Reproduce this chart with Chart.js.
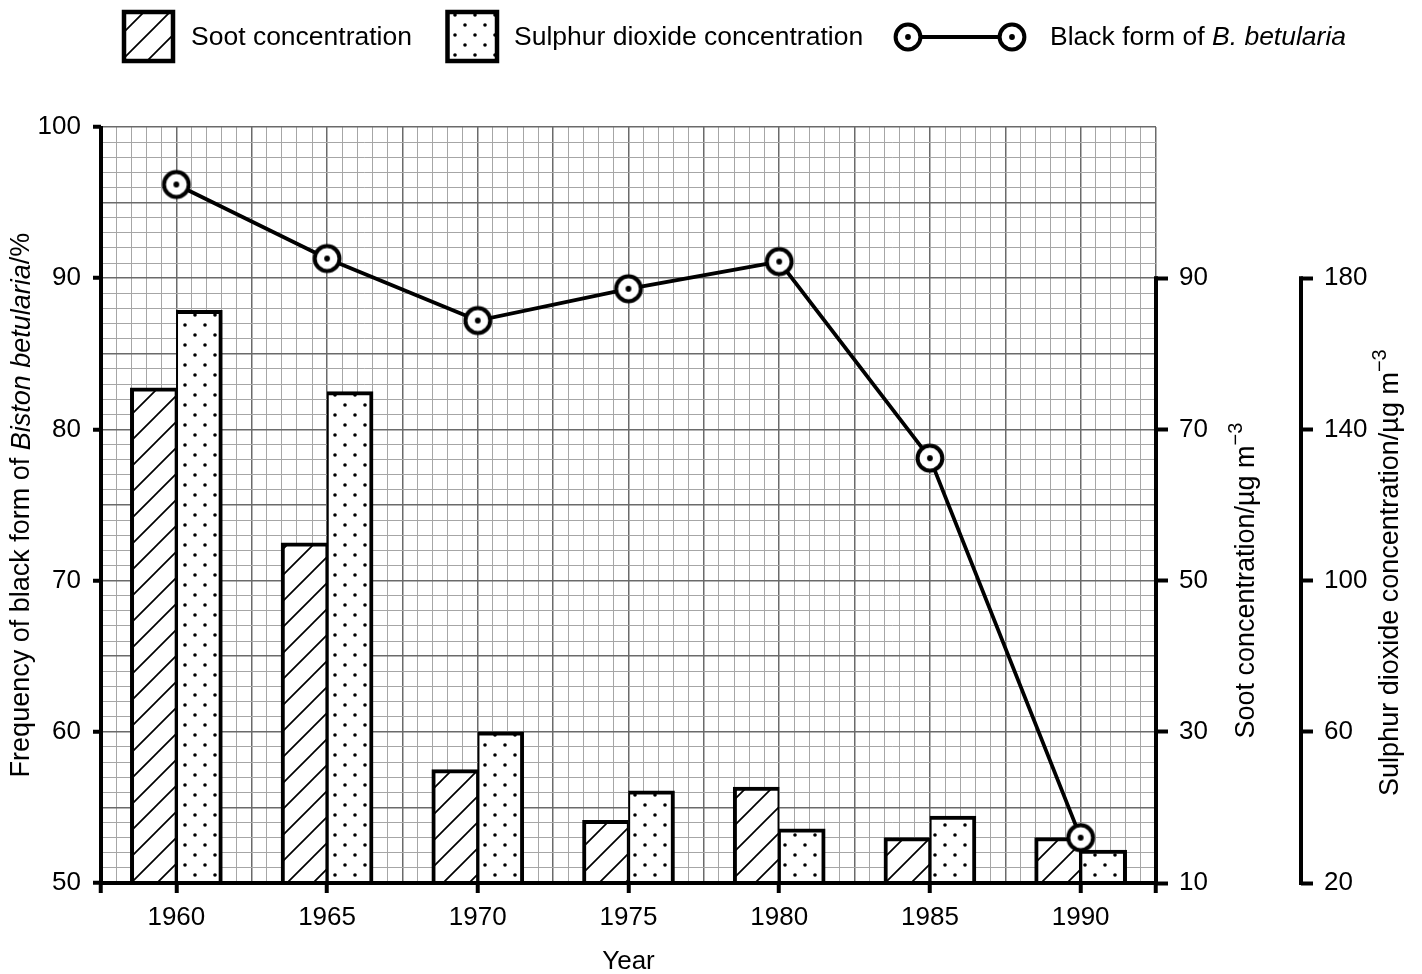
<!DOCTYPE html>
<html>
<head>
<meta charset="utf-8">
<script src="https://cdn.jsdelivr.net/npm/chart.js@4.4.1/dist/chart.umd.min.js"></script>
<style>
  html, body { margin: 0; padding: 0; background: #fff; }
  #wrap { width: 1422px; height: 974px; }
</style>
</head>
<body>
<div id="wrap"><canvas id="chart" width="1422" height="974"></canvas></div>
<script>
// values
const years = [1960, 1965, 1970, 1975, 1980, 1985, 1990];
const sootValues = [75.5, 55, 25, 18.3, 22.7, 16, 16];
const so2Values = [171.5, 150, 60, 44.4, 34.3, 37.7, 28.7];
const blackFormValues = [96.2, 91.3, 87.2, 89.3, 91.1, 78.1, 53.0];

const freqTicks = [50, 60, 70, 80, 90, 100];
const sootTicks = [10, 30, 50, 70, 90];
const so2Ticks = [20, 60, 100, 140, 180];

const FONT = '"Liberation Sans", Arial, sans-serif';
const MINOR = '#a6a6a6';
const MAJOR = '#6a6a6a';
const CLEAR = 'rgba(0,0,0,0)';

// fine graph-paper grid: half a year across, one percent up
const xGrid = [];
for (let v = 1957.5; v <= 1992.5; v += 0.5) xGrid.push(v);
const yGrid = [];
for (let v = 50; v <= 100; v += 1) yGrid.push(v);

function makeHatch() {
    const s = 26;
    const c = document.createElement('canvas');
    c.width = s; c.height = s;
    const g = c.getContext('2d');
    g.fillStyle = '#fff';
    g.fillRect(0, 0, s, s);
    g.strokeStyle = '#000';
    g.lineWidth = 1.7;
    g.beginPath();
    for (const k of [-s, 0, s]) {
        g.moveTo(k - 2, s + 2);
        g.lineTo(k + s + 2, -2);
    }
    g.stroke();
    return g.createPattern(c, 'repeat');
}

function makeDots() {
    const s = 20;
    const c = document.createElement('canvas');
    c.width = s; c.height = s;
    const g = c.getContext('2d');
    g.fillStyle = '#fff';
    g.fillRect(0, 0, s, s);
    g.fillStyle = '#000';
    for (const [px, py] of [[5, 5], [15, 15]]) {
        g.beginPath();
        g.arc(px, py, 1.8, 0, Math.PI * 2);
        g.fill();
    }
    return g.createPattern(c, 'repeat');
}

function makeMarker() {
    const s = 34;
    const c = document.createElement('canvas');
    c.width = s; c.height = s;
    const g = c.getContext('2d');
    g.fillStyle = '#fff';
    g.strokeStyle = '#000';
    g.lineWidth = 4;
    g.beginPath();
    g.arc(s / 2, s / 2, 12.4, 0, Math.PI * 2);
    g.fill();
    g.stroke();
    g.fillStyle = '#000';
    g.beginPath();
    g.arc(s / 2, s / 2, 2.9, 0, Math.PI * 2);
    g.fill();
    return c;
}

const hatch = makeHatch();
const dots = makeDots();
const marker = makeMarker();

function drawRich(ctx, parts, cx, cy, rotate) {
    ctx.save();
    ctx.translate(cx, cy);
    if (rotate) ctx.rotate(-Math.PI / 2);
    let total = 0;
    parts.forEach(p => { ctx.font = p.font; p.w = ctx.measureText(p.text).width; total += p.w; });
    let x = -total / 2;
    ctx.fillStyle = '#000';
    ctx.textAlign = 'left';
    ctx.textBaseline = 'middle';
    parts.forEach(p => { ctx.font = p.font; ctx.fillText(p.text, x, p.dy || 0); x += p.w; });
    ctx.restore();
}

const axisLines = {
    id: 'axisLines',
    afterDatasetsDraw(chart) {
        const ctx = chart.ctx;
        const ca = chart.chartArea;
        const soot = chart.scales.ySoot;
        const so2 = chart.scales.ySO2;
        ctx.save();
        ctx.strokeStyle = '#000';
        ctx.lineWidth = 4;
        ctx.beginPath();
        ctx.moveTo(ca.left, ca.top - 1);
        ctx.lineTo(ca.left, ca.bottom + 2);
        ctx.moveTo(ca.left - 2, ca.bottom);
        ctx.lineTo(ca.right + 2, ca.bottom);
        ctx.moveTo(ca.right, soot.getPixelForValue(sootTicks[sootTicks.length - 1]) - 2);
        ctx.lineTo(ca.right, ca.bottom + 2);
        ctx.moveTo(so2.left, so2.getPixelForValue(so2Ticks[so2Ticks.length - 1]) - 2);
        ctx.lineTo(so2.left, so2.getPixelForValue(so2Ticks[0]) + 2);
        ctx.stroke();
        ctx.restore();
    }
};

const labels = {
    id: 'labels',
    afterDraw(chart) {
        const ctx = chart.ctx;
        const ca = chart.chartArea;
        const f = (size, italic) => (italic ? 'italic ' : '') + size + 'px ' + FONT;
        ctx.save();

        // legend
        ctx.lineWidth = 4.5;
        ctx.strokeStyle = '#000';
        ctx.fillStyle = hatch;
        ctx.fillRect(124, 12, 49, 49);
        ctx.strokeRect(124, 12, 49, 49);
        ctx.fillStyle = dots;
        ctx.fillRect(447.5, 12, 49.5, 49);
        ctx.strokeRect(447.5, 12, 49.5, 49);

        ctx.lineWidth = 3.8;
        ctx.beginPath();
        ctx.moveTo(908, 37);
        ctx.lineTo(1012, 37);
        ctx.stroke();
        ctx.drawImage(marker, 908 - 17, 37 - 17);
        ctx.drawImage(marker, 1012 - 17, 37 - 17);

        ctx.fillStyle = '#000';
        ctx.textBaseline = 'alphabetic';
        ctx.textAlign = 'left';
        ctx.font = f(26.5);
        ctx.fillText('Soot concentration', 191, 45);
        ctx.fillText('Sulphur dioxide concentration', 514, 45);
        const lead = 'Black form of ';
        ctx.fillText(lead, 1050, 45);
        const w = ctx.measureText(lead).width;
        ctx.font = f(26.5, true);
        ctx.fillText('B. betularia', 1050 + w, 45);

        // axis titles
        drawRich(ctx, [
            { text: 'Frequency of black form of ', font: f(27) },
            { text: 'Biston betularia', font: f(27, true) },
            { text: '/%', font: f(27) }
        ], 22, (ca.top + ca.bottom) / 2, true);

        const soot = chart.scales.ySoot;
        const so2 = chart.scales.ySO2;
        const sootMid = (soot.getPixelForValue(sootTicks[0]) + soot.getPixelForValue(sootTicks[sootTicks.length - 1])) / 2;
        const so2Mid = (so2.getPixelForValue(so2Ticks[0]) + so2.getPixelForValue(so2Ticks[so2Ticks.length - 1])) / 2;
        drawRich(ctx, [
            { text: 'Soot concentration/\u00b5g m', font: f(27) },
            { text: '\u22123', font: f(20), dy: -11 }
        ], 1247, sootMid, true);
        drawRich(ctx, [
            { text: 'Sulphur dioxide concentration/\u00b5g m', font: f(27) },
            { text: '\u22123', font: f(20), dy: -11 }
        ], 1391, so2Mid - 8, true);

        drawRich(ctx, [{ text: 'Year', font: f(26) }], (ca.left + ca.right) / 2, 962, false);
        ctx.restore();
    }
};

const tickFont = { family: FONT, size: 26 };

new Chart(document.getElementById('chart'), {
    type: 'bar',
    data: {
        datasets: [
            {
                type: 'line',
                label: 'Black form of B. betularia',
                data: years.map((x, i) => ({ x: x, y: blackFormValues[i] })),
                yAxisID: 'y',
                borderColor: '#000',
                borderWidth: 3.8,
                tension: 0,
                fill: false,
                pointStyle: marker,
                pointRadius: 14,
                order: 0
            },
            {
                label: 'Soot concentration',
                data: years.map((x, i) => ({ x: x, y: sootValues[i] })),
                yAxisID: 'ySoot',
                backgroundColor: hatch,
                borderColor: '#000',
                borderWidth: { top: 4, left: 4, right: 2, bottom: 0 },
                borderSkipped: false,
                barThickness: 46,
                order: 1
            },
            {
                label: 'Sulphur dioxide concentration',
                data: years.map((x, i) => ({ x: x, y: so2Values[i] })),
                yAxisID: 'ySO2',
                backgroundColor: dots,
                borderColor: '#000',
                borderWidth: { top: 4, left: 2, right: 4, bottom: 0 },
                borderSkipped: false,
                barThickness: 46,
                order: 1
            }
        ]
    },
    options: {
        responsive: false,
        animation: false,
        devicePixelRatio: 1,
        layout: { padding: { top: 127, left: 0, right: 0, bottom: 0 } },
        plugins: { legend: { display: false }, tooltip: { enabled: false } },
        scales: {
            x: {
                type: 'linear',
                min: 1957.5,
                max: 1992.5,
                offset: false,
                afterBuildTicks: s => { s.ticks = xGrid.map(v => ({ value: v })); },
                afterFit: s => { s.height = 91; },
                border: { display: false },
                grid: {
                    offset: false,
                    color: c => c.tick.value === 1957.5 ? CLEAR : (c.tick.value % 2.5 === 0 ? MAJOR : MINOR),
                    lineWidth: c => c.tick.value % 2.5 === 0 ? 1.5 : 1,
                    tickColor: c => (years.includes(c.tick.value) || c.tick.value === 1957.5 || c.tick.value === 1992.5) ? '#000' : CLEAR,
                    tickWidth: 4,
                    tickLength: 10
                },
                ticks: {
                    autoSkip: false,
                    maxRotation: 0,
                    padding: 9,
                    color: '#000',
                    font: tickFont,
                    callback: v => years.includes(v) ? String(v) : ''
                }
            },
            y: {
                type: 'linear',
                position: 'left',
                min: 50,
                max: 100,
                afterBuildTicks: s => { s.ticks = yGrid.map(v => ({ value: v })); },
                afterFit: s => { s.width = 101; },
                border: { display: false },
                grid: {
                    color: c => c.tick.value === 50 ? CLEAR : (c.tick.value % 5 === 0 ? MAJOR : MINOR),
                    lineWidth: c => c.tick.value % 5 === 0 ? 1.5 : 1,
                    tickColor: c => freqTicks.includes(c.tick.value) ? '#000' : CLEAR,
                    tickWidth: 4,
                    tickLength: 8
                },
                ticks: {
                    autoSkip: false,
                    padding: 12,
                    color: '#000',
                    font: tickFont,
                    callback: v => freqTicks.includes(v) ? String(v) : ''
                }
            },
            ySoot: {
                type: 'linear',
                position: 'right',
                weight: 0,
                min: 10,
                max: 110,
                afterBuildTicks: s => { s.ticks = sootTicks.map(v => ({ value: v })); },
                afterFit: s => { s.width = 145; },
                border: { display: false },
                grid: { drawOnChartArea: false, tickColor: '#000', tickWidth: 4, tickLength: 12 },
                ticks: { autoSkip: false, padding: 11, color: '#000', font: tickFont }
            },
            ySO2: {
                type: 'linear',
                position: 'right',
                weight: 1,
                min: 20,
                max: 220,
                afterBuildTicks: s => { s.ticks = so2Ticks.map(v => ({ value: v })); },
                afterFit: s => { s.width = 121; },
                border: { display: false },
                grid: { drawOnChartArea: false, tickColor: '#000', tickWidth: 4, tickLength: 12 },
                ticks: { autoSkip: false, padding: 11, color: '#000', font: tickFont }
            }
        }
    },
    plugins: [axisLines, labels]
});
</script>
</body>
</html>
